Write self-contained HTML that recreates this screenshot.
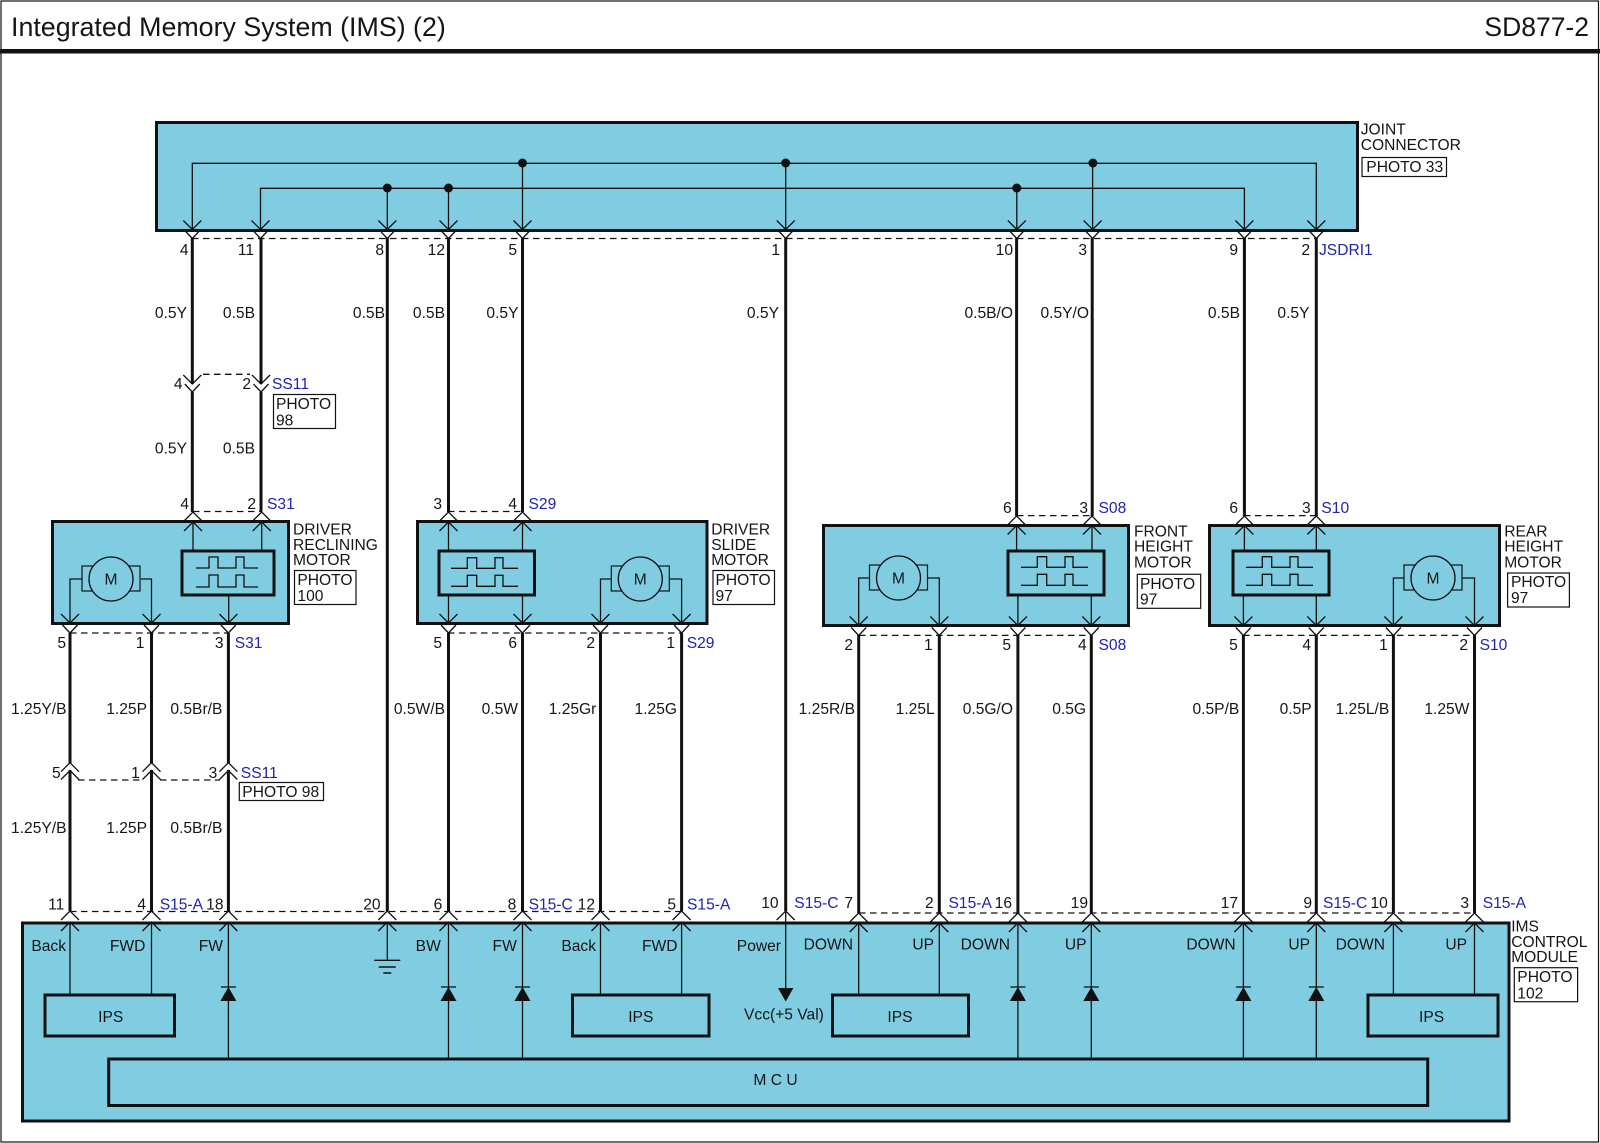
<!DOCTYPE html>
<html><head><meta charset="utf-8"><title>Integrated Memory System (IMS) (2)</title>
<style>
html,body{margin:0;padding:0;background:#fff}
svg{display:block}
text{font-family:"Liberation Sans",Arial,sans-serif;font-size:15.6px;fill:#151515}
.e{text-anchor:end}.m{text-anchor:middle}.b{fill:#2222aa}
.box{fill:#80cde2;stroke:#111;stroke-width:3}
.ph{fill:#fff;stroke:#111;stroke-width:1.2}
.w{stroke:#111;stroke-width:3;fill:none}
.t{stroke:#111;stroke-width:1.3;fill:none}
.d{stroke:#111;stroke-width:1.3;fill:none;stroke-dasharray:6.5 4.5}
</style></head><body>
<svg xmlns="http://www.w3.org/2000/svg" width="1600" height="1143" viewBox="0 0 1600 1143">
<defs>
<path id="v" d="M-9-9L0 0L9-9" fill="none" stroke="#111" stroke-width="1.3"/>
<path id="s" d="M-7.5-8L0 0L7.5-8" fill="none" stroke="#111" stroke-width="1.3"/>
<path id="a" d="M-9 9L0 0L9 9" fill="none" stroke="#111" stroke-width="1.3"/>
<g id="mot"><rect x="-29" y="-13" width="58" height="25" fill="#80cde2" stroke="#111" stroke-width="1.2"/><circle r="22" fill="#80cde2" stroke="#111" stroke-width="1.3"/></g>
<g id="pul"><path class="t" d="M-32-5H-19V-16H-10V-5H8V-16H16V-5H30M-32 14H-19V2H-10V14H8V2H16V14H30"/></g>
<g id="pul2"><path class="t" d="M-35-5.7H-18.7V-16.3H-9.3V-5.7H9V-16.3H17V-5.7H32M-35 12.3H-18.7V1.3H-9.3V12.3H9V1.3H17V12.3H32"/></g>
<g id="dio"><path d="M-7.5 0H7.5" stroke="#111" stroke-width="1.3"/><path d="M0 0L8 14H-8Z" fill="#111"/></g>
</defs>
<rect x="0" y="0" width="1600" height="1143" fill="#fff"/>
<rect x="1" y="1" width="1597.5" height="1141" fill="none" stroke="#111" stroke-width="1.2"/>
<rect x="0" y="49" width="1600" height="4.5" fill="#111"/>
<text x="11" y="36" style="font-size:26.8px">Integrated Memory System (IMS) (2)</text>
<text x="1589" y="36" class="e" style="font-size:26.5px">SD877-2</text>

<!-- boxes -->
<rect class="box" x="156.5" y="122.5" width="1201" height="108"/>
<rect class="box" x="52.5" y="521.5" width="236" height="102"/>
<rect class="box" x="417.5" y="521.5" width="289.5" height="102"/>
<rect class="box" x="823.5" y="525.5" width="305" height="100"/>
<rect class="box" x="1209.5" y="525.5" width="290" height="100"/>
<rect class="box" x="22.5" y="923" width="1486.5" height="198"/>

<!-- joint connector internals -->
<path class="t" d="M192.3 229V163.3H1316.3V229M260.5 229V188.3H1244.4V229M387.3 188V229M448.5 188V229M522.5 163V229M785.7 163V229M1016.8 188V229M1092.6 163V229"/>
<g fill="#111"><circle cx="387.3" cy="188" r="4.5"/><circle cx="448.5" cy="188" r="4.5"/><circle cx="522.5" cy="163" r="4.5"/><circle cx="785.7" cy="163" r="4.5"/><circle cx="1016.8" cy="188" r="4.5"/><circle cx="1092.9" cy="163" r="4.5"/></g>

<!-- thick wires -->
<path class="w" d="M192.3 238V384M192.3 392V512M261 238V384M261 392V512M387.3 238V911M448.5 238V512M522.5 238V512M785.7 238V911M1016.6 238V516M1092.2 238V516M1244.4 238V516M1316.3 238V516"/>
<path class="w" d="M70 633V763M70 770V911M151.5 633V763M151.5 770V911M228.4 633V763M228.4 770V911M448.5 633V911M522.5 633V911M600.5 633V911M681.6 633V911M858.7 635V913M939.3 635V913M1017.9 635V913M1091.3 635V913M1243.4 635V913M1316.3 635V913M1393.4 635V913M1474.5 635V913"/>

<!-- dashes -->
<path class="d" d="M192 238.5H1316M203 374.3H250M193 511.5H261M448 511.5H522M1017 515.6H1092M1244 515.6H1316M70 633H229M448 633H682M859 635.4H1091M1243 635.4H1474M78 780H140M160 780H220M70 911.5H682M859 913H1474"/>

<!-- chevrons -->
<g>
<use href="#v" x="192.3" y="229.5"/><use href="#s" x="192.3" y="238.5"/><use href="#v" x="260.5" y="229.5"/><use href="#s" x="260.5" y="238.5"/><use href="#v" x="387.3" y="229.5"/><use href="#s" x="387.3" y="238.5"/><use href="#v" x="448.5" y="229.5"/><use href="#s" x="448.5" y="238.5"/><use href="#v" x="522.5" y="229.5"/><use href="#s" x="522.5" y="238.5"/><use href="#v" x="785.7" y="229.5"/><use href="#s" x="785.7" y="238.5"/><use href="#v" x="1016.8" y="229.5"/><use href="#s" x="1016.8" y="238.5"/><use href="#v" x="1092.6" y="229.5"/><use href="#s" x="1092.6" y="238.5"/><use href="#v" x="1244.4" y="229.5"/><use href="#s" x="1244.4" y="238.5"/><use href="#v" x="1316.3" y="229.5"/><use href="#s" x="1316.3" y="238.5"/>
<use href="#v" x="192.3" y="384"/><use href="#s" x="192.3" y="392"/><use href="#v" x="261" y="384"/><use href="#s" x="261" y="392"/>
<use href="#a" x="193" y="512"/><use href="#a" x="193" y="522"/><use href="#a" x="261.7" y="512"/><use href="#a" x="261.7" y="522"/><use href="#a" x="448.5" y="512"/><use href="#a" x="448.5" y="522"/><use href="#a" x="522.5" y="512"/><use href="#a" x="522.5" y="522"/>
<use href="#a" x="1016.6" y="516"/><use href="#a" x="1016.6" y="525.5"/><use href="#a" x="1092" y="516"/><use href="#a" x="1092" y="525.5"/><use href="#a" x="1244.4" y="516"/><use href="#a" x="1244.4" y="525.5"/><use href="#a" x="1316.3" y="516"/><use href="#a" x="1316.3" y="525.5"/>
<use href="#v" x="70" y="623"/><use href="#s" x="70" y="633"/><use href="#v" x="151.5" y="623"/><use href="#s" x="151.5" y="633"/><use href="#v" x="228.4" y="623"/><use href="#s" x="228.4" y="633"/><use href="#v" x="448.5" y="623"/><use href="#s" x="448.5" y="633"/><use href="#v" x="522.5" y="623"/><use href="#s" x="522.5" y="633"/><use href="#v" x="600.5" y="623"/><use href="#s" x="600.5" y="633"/><use href="#v" x="681.6" y="623"/><use href="#s" x="681.6" y="633"/>
<use href="#v" x="858.7" y="625.5"/><use href="#s" x="858.7" y="635.5"/><use href="#v" x="939.3" y="625.5"/><use href="#s" x="939.3" y="635.5"/><use href="#v" x="1017.9" y="625.5"/><use href="#s" x="1017.9" y="635.5"/><use href="#v" x="1091.3" y="625.5"/><use href="#s" x="1091.3" y="635.5"/><use href="#v" x="1243.4" y="625.5"/><use href="#s" x="1243.4" y="635.5"/><use href="#v" x="1316.3" y="625.5"/><use href="#s" x="1316.3" y="635.5"/><use href="#v" x="1393.4" y="625.5"/><use href="#s" x="1393.4" y="635.5"/><use href="#v" x="1474.5" y="625.5"/><use href="#s" x="1474.5" y="635.5"/>
<use href="#a" x="70" y="762.7"/><use href="#a" x="70" y="770.5"/><use href="#a" x="151.5" y="762.7"/><use href="#a" x="151.5" y="770.5"/><use href="#a" x="228.4" y="762.7"/><use href="#a" x="228.4" y="770.5"/>
<use href="#a" x="70" y="911"/><use href="#a" x="70" y="922"/><use href="#a" x="151.5" y="911"/><use href="#a" x="151.5" y="922"/><use href="#a" x="228.4" y="911"/><use href="#a" x="228.4" y="922"/><use href="#a" x="387.3" y="911"/><use href="#a" x="387.3" y="922"/><use href="#a" x="448.5" y="911"/><use href="#a" x="448.5" y="922"/><use href="#a" x="522.5" y="911"/><use href="#a" x="522.5" y="922"/><use href="#a" x="600.5" y="911"/><use href="#a" x="600.5" y="922"/><use href="#a" x="681.6" y="911"/><use href="#a" x="681.6" y="922"/><use href="#a" x="785.7" y="911"/>
<use href="#a" x="858.7" y="913"/><use href="#a" x="858.7" y="923"/><use href="#a" x="939.3" y="913"/><use href="#a" x="939.3" y="923"/><use href="#a" x="1017.9" y="913"/><use href="#a" x="1017.9" y="923"/><use href="#a" x="1091.3" y="913"/><use href="#a" x="1091.3" y="923"/><use href="#a" x="1243.4" y="913"/><use href="#a" x="1243.4" y="923"/><use href="#a" x="1316.3" y="913"/><use href="#a" x="1316.3" y="923"/><use href="#a" x="1393.4" y="913"/><use href="#a" x="1393.4" y="923"/><use href="#a" x="1474.5" y="913"/><use href="#a" x="1474.5" y="923"/>
</g>

<!-- motor boxes contents -->
<path class="t" d="M193 522V551M261.7 522V551M228.7 595V622M82 579H70V622M141 579H151.5V622"/>
<use href="#mot" x="111" y="579"/><text x="111" y="584.5" class="m">M</text>
<rect class="box" x="182" y="551" width="92" height="44"/><use href="#pul" x="228" y="573"/>

<path class="t" d="M448.5 522V551M522.5 522V551M448.5 595V622M522.5 595V622M611 579H600.5V622M669 579H681.6V622"/>
<use href="#mot" x="640.3" y="579"/><text x="640.3" y="584.5" class="m">M</text>
<rect class="box" x="439" y="551" width="95.5" height="44"/><use href="#pul2" x="486" y="574"/>

<path class="t" d="M1016.6 526V551M1092 526V551M1017.9 595V624M1091.3 595V624M869.5 578H858.7V624M927.5 578H939.3V624"/>
<use href="#mot" x="898.5" y="578"/><text x="898.5" y="583.5" class="m">M</text>
<rect class="box" x="1008" y="551" width="96" height="44"/><use href="#pul2" x="1056" y="573"/>

<path class="t" d="M1244.4 526V551M1316.3 526V551M1243.4 595V624M1316.3 595V624M1404 578H1393.4V624M1462 578H1474.5V624"/>
<use href="#mot" x="1433" y="578"/><text x="1433" y="583.5" class="m">M</text>
<rect class="box" x="1233" y="551" width="96" height="44"/><use href="#pul2" x="1281" y="573"/>

<!-- control module -->
<rect class="box" x="45" y="995" width="129.5" height="41"/>
<rect class="box" x="572.5" y="995" width="136.5" height="41"/>
<rect class="box" x="832.5" y="995" width="136" height="41"/>
<rect class="box" x="1368" y="995" width="130" height="41"/>
<rect class="box" x="108.7" y="1059" width="1319" height="46.5"/>
<path class="t" d="M70 923V995M151.5 923V995M600.5 923V995M681.6 923V995M858.7 923V995M939.3 923V995M1393.4 923V995M1474.5 923V995M228.4 923V1059M448.5 923V1059M522.5 923V1059M1017.9 923V1059M1091.3 923V1059M1243.4 923V1059M1316.3 923V1059M387.3 923V960M785.7 912V990"/>
<path d="M374.3 960.3H400.3M378.8 967H395.8M383.3 973H391.3" stroke="#111" stroke-width="1.4"/>
<path d="M778 988H793.4L785.7 1001.5Z" fill="#111"/>
<use href="#dio" x="228.4" y="987"/><use href="#dio" x="448.5" y="987"/><use href="#dio" x="522.5" y="987"/><use href="#dio" x="1017.9" y="987"/><use href="#dio" x="1091.3" y="987"/><use href="#dio" x="1243.4" y="987"/><use href="#dio" x="1316.3" y="987"/>

<!-- photo boxes -->
<rect class="ph" x="1362" y="157.5" width="84.5" height="19"/><text x="1366.3" y="172">PHOTO 33</text>
<rect class="ph" x="273.5" y="394.5" width="62" height="34"/><text x="276" y="409">PHOTO</text><text x="276" y="425.5">98</text>
<rect class="ph" x="294.5" y="570.5" width="61.5" height="34"/><text x="297.4" y="585">PHOTO</text><text x="297.4" y="601">100</text>
<rect class="ph" x="713" y="570.5" width="61.5" height="34"/><text x="715.5" y="585">PHOTO</text><text x="715.5" y="601">97</text>
<rect class="ph" x="1137.3" y="574.3" width="63.4" height="34"/><text x="1140" y="589">PHOTO</text><text x="1140" y="604.3">97</text>
<rect class="ph" x="1507.6" y="573" width="61.8" height="34"/><text x="1511" y="587">PHOTO</text><text x="1511" y="603">97</text>
<rect class="ph" x="239.3" y="782.5" width="84.2" height="18"/><text x="242.3" y="797">PHOTO 98</text>
<rect class="ph" x="1514.3" y="967.7" width="63.3" height="34"/><text x="1517.3" y="982">PHOTO</text><text x="1517.3" y="998.5">102</text>

<!-- component labels -->
<text x="1360.7" y="134.5">JOINT</text><text x="1360.7" y="150">CONNECTOR</text>
<text x="293" y="534.5">DRIVER</text><text x="293" y="550">RECLINING</text><text x="293" y="565">MOTOR</text>
<text x="711.2" y="534.5">DRIVER</text><text x="711.2" y="550">SLIDE</text><text x="711.2" y="565">MOTOR</text>
<text x="1134" y="536.7">FRONT</text><text x="1134" y="551.7">HEIGHT</text><text x="1134" y="567.3">MOTOR</text>
<text x="1504.2" y="536.7">REAR</text><text x="1504.2" y="551.7">HEIGHT</text><text x="1504.2" y="567.3">MOTOR</text>
<text x="1511.2" y="931.5">IMS</text><text x="1511.2" y="947">CONTROL</text><text x="1511.2" y="962">MODULE</text>

<!-- top pins -->
<g class="e">
<text x="188.5" y="255" class="e">4</text><text x="254" y="255" class="e">11</text><text x="384" y="255" class="e">8</text><text x="445" y="255" class="e">12</text><text x="517" y="255" class="e">5</text><text x="780" y="255" class="e">1</text><text x="1013" y="255" class="e">10</text><text x="1087" y="255" class="e">3</text><text x="1238" y="255" class="e">9</text><text x="1310" y="255" class="e">2</text>
<text x="187" y="318" class="e">0.5Y</text><text x="255" y="318" class="e">0.5B</text><text x="385" y="318" class="e">0.5B</text><text x="445" y="318" class="e">0.5B</text><text x="518.5" y="318" class="e">0.5Y</text><text x="779" y="318" class="e">0.5Y</text><text x="1013" y="318" class="e">0.5B/O</text><text x="1089" y="318" class="e">0.5Y/O</text><text x="1240" y="318" class="e">0.5B</text><text x="1309.5" y="318" class="e">0.5Y</text>
<text x="182.5" y="389" class="e">4</text><text x="251" y="389" class="e">2</text>
<text x="187" y="453.5" class="e">0.5Y</text><text x="255" y="453.5" class="e">0.5B</text>
<text x="189" y="509" class="e">4</text><text x="256" y="509" class="e">2</text><text x="442" y="509" class="e">3</text><text x="517" y="509" class="e">4</text>
<text x="1011.7" y="513" class="e">6</text><text x="1088" y="513" class="e">3</text><text x="1238" y="513" class="e">6</text><text x="1310.7" y="513" class="e">3</text>
<text x="66" y="648" class="e">5</text><text x="144.4" y="648" class="e">1</text><text x="223.5" y="648" class="e">3</text><text x="442" y="648" class="e">5</text><text x="517" y="648" class="e">6</text><text x="595" y="648" class="e">2</text><text x="675" y="648" class="e">1</text>
<text x="853" y="650" class="e">2</text><text x="932.7" y="650" class="e">1</text><text x="1011" y="650" class="e">5</text><text x="1086.7" y="650" class="e">4</text><text x="1237.8" y="650" class="e">5</text><text x="1311" y="650" class="e">4</text><text x="1387.8" y="650" class="e">1</text><text x="1468" y="650" class="e">2</text>
<text x="66.5" y="714" class="e">1.25Y/B</text><text x="147" y="714" class="e">1.25P</text><text x="222.4" y="714" class="e">0.5Br/B</text><text x="445" y="714" class="e">0.5W/B</text><text x="518" y="714" class="e">0.5W</text><text x="596.4" y="714" class="e">1.25Gr</text><text x="677" y="714" class="e">1.25G</text><text x="855" y="714" class="e">1.25R/B</text><text x="934.7" y="714" class="e">1.25L</text><text x="1013" y="714" class="e">0.5G/O</text><text x="1086" y="714" class="e">0.5G</text><text x="1239.3" y="714" class="e">0.5P/B</text><text x="1311.7" y="714" class="e">0.5P</text><text x="1389.3" y="714" class="e">1.25L/B</text><text x="1469.4" y="714" class="e">1.25W</text>
<text x="60.7" y="778" class="e">5</text><text x="139.8" y="778" class="e">1</text><text x="217.3" y="778" class="e">3</text>
<text x="66.5" y="833" class="e">1.25Y/B</text><text x="147" y="833" class="e">1.25P</text><text x="222.4" y="833" class="e">0.5Br/B</text>
<text x="64.3" y="909.5" class="e">11</text><text x="146" y="909.5" class="e">4</text><text x="223.5" y="909.5" class="e">18</text><text x="380.6" y="909.5" class="e">20</text><text x="442.3" y="909.5" class="e">6</text><text x="516.3" y="909.5" class="e">8</text><text x="595" y="909.5" class="e">12</text><text x="676" y="909.5" class="e">5</text>
<text x="778.6" y="908" class="e">10</text><text x="853" y="908" class="e">7</text><text x="933.7" y="908" class="e">2</text><text x="1012" y="908" class="e">16</text><text x="1088" y="908" class="e">19</text><text x="1238" y="908" class="e">17</text><text x="1312" y="908" class="e">9</text><text x="1387.8" y="908" class="e">10</text><text x="1469" y="908" class="e">3</text>
<text x="66" y="951" class="e">Back</text><text x="145.4" y="951" class="e">FWD</text><text x="223" y="951" class="e">FW</text><text x="440.8" y="951" class="e">BW</text><text x="516.8" y="951" class="e">FW</text><text x="596" y="951" class="e">Back</text><text x="677.5" y="951" class="e">FWD</text><text x="781" y="951" class="e">Power</text>
<text x="853" y="949.5" class="e">DOWN</text><text x="934" y="949.5" class="e">UP</text><text x="1010" y="949.5" class="e">DOWN</text><text x="1086.5" y="949.5" class="e">UP</text><text x="1235.7" y="949.5" class="e">DOWN</text><text x="1310" y="949.5" class="e">UP</text><text x="1385" y="949.5" class="e">DOWN</text><text x="1467" y="949.5" class="e">UP</text>
</g>

<!-- connector names -->
<text x="1319" y="255" class="b">JSDRI1</text>
<text x="272" y="389" class="b">SS11</text>
<text x="267" y="509" class="b">S31</text><text x="528.5" y="509" class="b">S29</text>
<text x="1098.5" y="513" class="b">S08</text><text x="1321.4" y="513" class="b">S10</text>
<text x="234.7" y="648" class="b">S31</text><text x="686.7" y="648" class="b">S29</text>
<text x="1098.5" y="650" class="b">S08</text><text x="1479.6" y="650" class="b">S10</text>
<text x="240.8" y="778" class="b">SS11</text>
<text x="159.7" y="909.5" class="b">S15-A</text><text x="528.6" y="909.5" class="b">S15-C</text><text x="687" y="909.5" class="b">S15-A</text>
<text x="838.5" y="908" class="b e">S15-C</text><text x="948.5" y="908" class="b">S15-A</text><text x="1323" y="908" class="b">S15-C</text><text x="1482.7" y="908" class="b">S15-A</text>

<!-- module text -->
<text x="110.7" y="1022" class="m">IPS</text><text x="640.8" y="1022" class="m">IPS</text><text x="900" y="1022" class="m">IPS</text><text x="1431.6" y="1022" class="m">IPS</text>
<text x="775.5" y="1085" class="m">M C U</text>
<text x="744" y="1019.5">Vcc(+5 Val)</text>
</svg>
</body></html>
